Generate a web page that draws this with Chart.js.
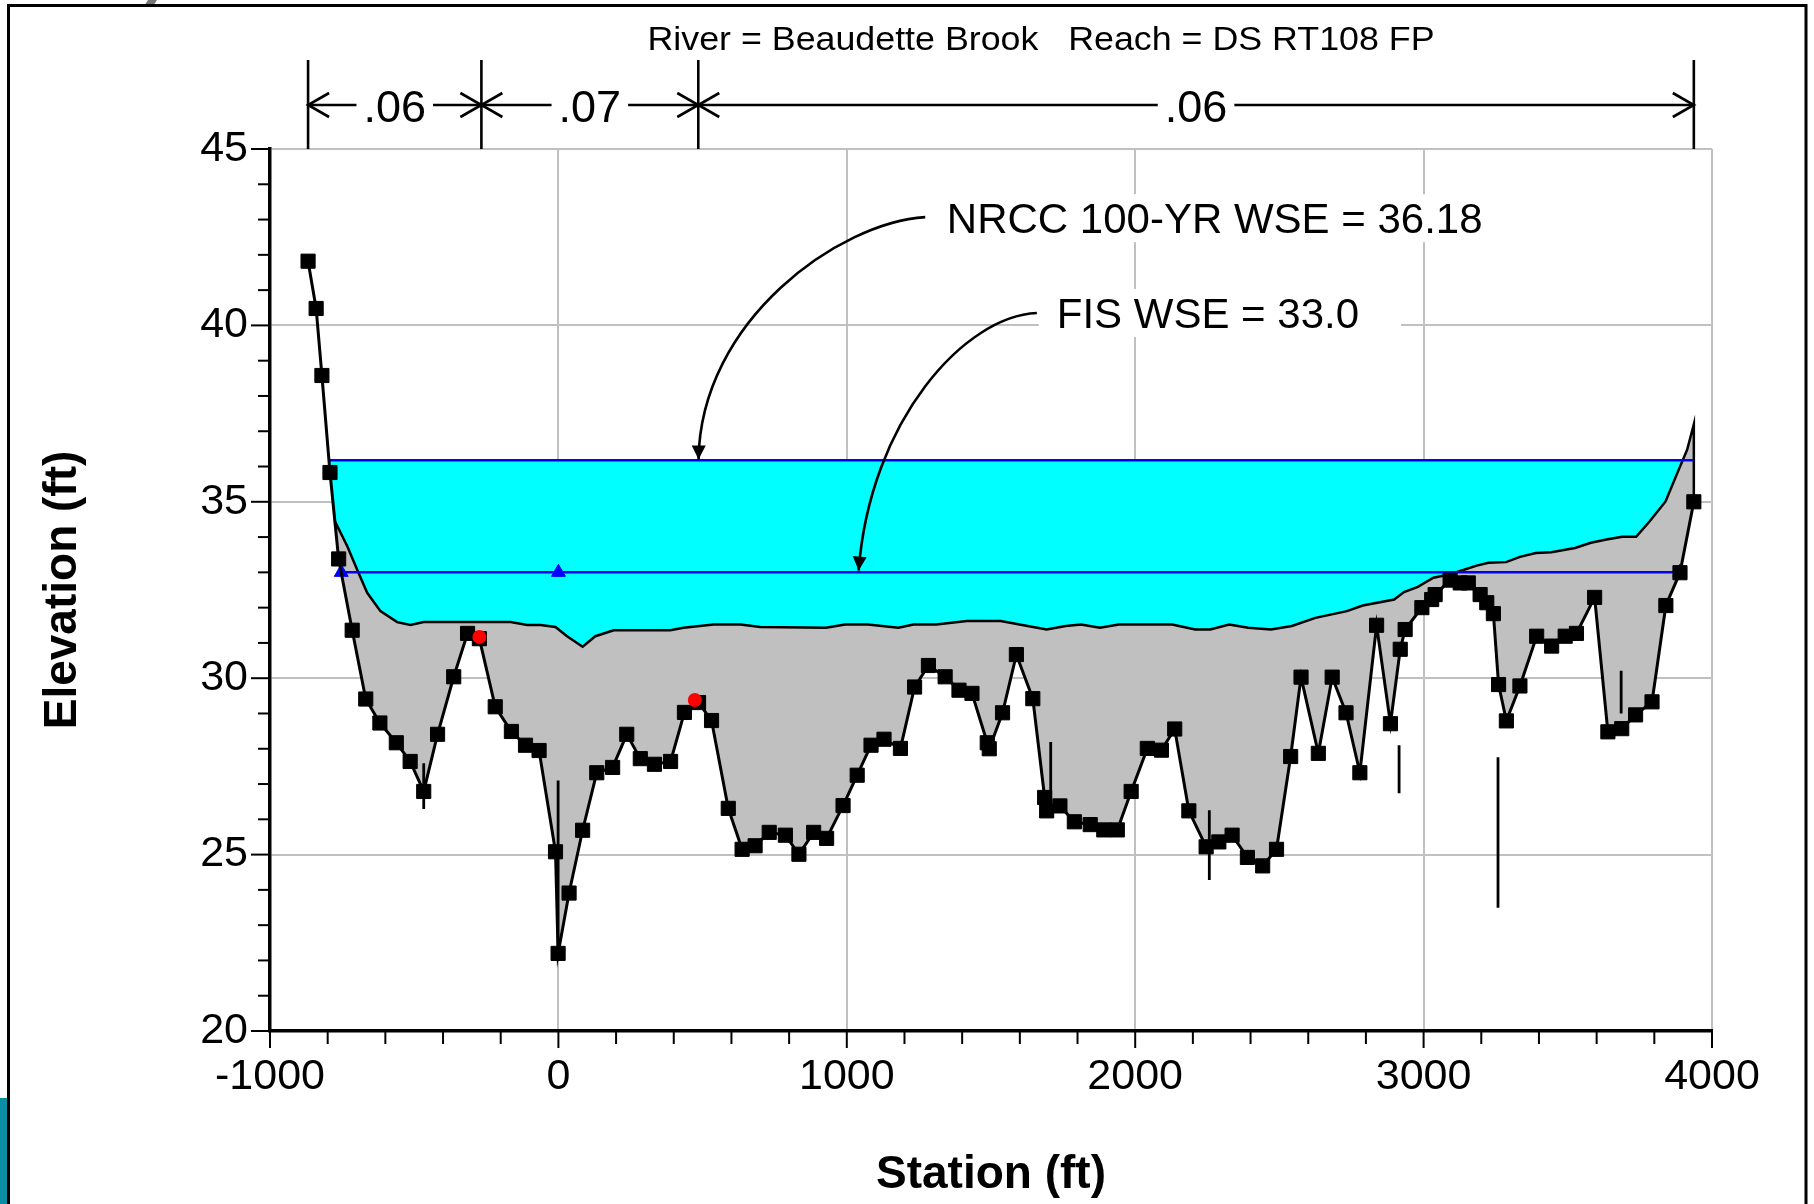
<!DOCTYPE html>
<html>
<head>
<meta charset="utf-8">
<script src="https://cdn.jsdelivr.net/npm/chart.js@4.4.0/dist/chart.umd.min.js"></script>
<style>
  html, body { margin: 0; padding: 0; background: #fff; }
  #wrap { width: 1814px; height: 1204px; }
</style>
</head>
<body>
<div id="wrap"><canvas id="xsChart" width="1814" height="1204"></canvas></div>
<script>
const FONT = "'Liberation Sans', Arial, sans-serif";

// ground points (squares)
const groundSta = [-868, -840, -820, -792, -762, -715, -668, -619, -562, -514, -467, -419, -363, -315, -274,
  -219, -163, -114, -67, -10, -1, 37, 84, 133, 188, 237, 284, 333, 389, 437, 486, 531, 589, 637, 682,
  731, 787, 834, 885, 930, 987, 1036, 1084, 1129, 1186, 1235, 1283, 1341, 1389, 1434, 1487, 1494, 1540,
  1588, 1645, 1686, 1693, 1739, 1789, 1844, 1891, 1938, 1986, 2042, 2091, 2137, 2186, 2246, 2290, 2336,
  2389, 2442, 2490, 2539, 2575, 2635, 2683, 2731, 2779, 2837, 2885, 2919, 2936, 2994, 3028, 3040, 3092,
  3127, 3155, 3196, 3219, 3242, 3260, 3287, 3334, 3392, 3444, 3491, 3530, 3593, 3639, 3687, 3735, 3792,
  3840, 3889, 3937];
const groundElev = [41.82, 40.48, 38.58, 35.83, 33.38, 31.36, 29.41, 28.73, 28.17, 27.64, 26.79, 28.41, 30.04, 31.27, 31.12,
  29.19, 28.49, 28.10, 27.95, 25.08, 22.20, 23.91, 25.69, 27.32, 27.47, 28.41, 27.72, 27.56, 27.64, 29.03, 29.31, 28.80, 26.31, 25.15, 25.25,
  25.63, 25.55, 25.01, 25.63, 25.46, 26.39, 27.25, 28.10, 28.27, 28.01, 29.75, 30.36, 30.04, 29.66, 29.57, 28.17, 28.00, 29.02,
  30.67, 29.42, 26.62, 26.24, 26.38, 25.93, 25.85, 25.70, 25.70, 26.79, 28.01, 27.96, 28.56, 26.24, 25.22, 25.36, 25.55,
  24.92, 24.68, 25.15, 27.78, 30.03, 27.87, 30.03, 29.02, 27.32, 31.50, 28.71, 30.82, 31.38, 32.00, 32.23, 32.37, 32.78,
  32.70, 32.70, 32.37, 32.14, 31.83, 29.82, 28.79, 29.78, 31.19, 30.91, 31.19, 31.27, 32.29, 28.48, 28.57, 28.96, 29.33,
  32.06, 32.99, 35.00];

// upper ground line (top of grey band)
const upperSta = [-775, -732, -698, -663, -617, -559, -513, -467, -166, -108, -62, -10, 30, 84, 128, 192, 388, 434,
  538, 631, 700, 928, 994, 1073, 1179, 1231, 1310, 1416, 1534, 1627, 1693, 1759, 1812, 1878, 1943, 2128, 2208,
  2260, 2326, 2392, 2471, 2543, 2625, 2734, 2789, 2898, 2932, 2980, 3034, 3089, 3143, 3184, 3225, 3286, 3334,
  3389, 3443, 3525, 3580, 3634, 3689, 3737, 3784, 3839, 3880, 3914, 3937];
const upperElev = [34.45, 33.74, 33.08, 32.42, 31.90, 31.59, 31.51, 31.59, 31.59, 31.51, 31.51, 31.45, 31.19, 30.89, 31.19, 31.36, 31.36, 31.43,
  31.52, 31.52, 31.45, 31.43, 31.52, 31.52, 31.43, 31.52, 31.52, 31.62, 31.62, 31.48, 31.38, 31.48, 31.52, 31.43, 31.52, 31.52, 31.38,
  31.38, 31.52, 31.43, 31.38, 31.48, 31.71, 31.90, 32.06, 32.23, 32.44, 32.59, 32.85, 32.94, 33.08, 33.19, 33.27, 33.29, 33.44,
  33.55, 33.57, 33.69, 33.84, 33.93, 34.01, 34.01, 34.45, 35.01, 35.82, 36.48, 37.20];

// water surfaces
const wse100 = 36.18;
const wse100Sta = [-796, 3937];
const wseFis = 33.0;
const fisSta = [-753, 0, 3888];

// bank stations (red dots)
const bankSta = [-274, 473];
const bankElev = [31.17, 29.38];

// vertical marker lines
const markerSta = [-467, -1, 1707, 2257, 2915, 3258, 3685];
const markerTop = [27.59, 27.10, 28.19, 26.26, 28.10, 27.76, 30.21];
const markerBot = [26.29, 22.20, 26.10, 24.28, 26.74, 23.49, 29.00];

// Manning's n breaks
const nSta = [-868, -267, 485, 3937];
const nLabels = ['.06', '.07', '.06'];

// callouts
const noteText = ['NRCC 100-YR WSE = 36.18', 'FIS WSE = 33.0'];
const noteSta = [1347, 1728];
const noteElev = [43.04, 40.35];
const arrowSta = [[1272, 977, 492, 486], [1659, 1411, 1081, 1041]];
const arrowElev = [[43.07, 42.93, 40.16, 36.2], [40.35, 40.27, 37.33, 33.05]];

const titleText = 'River = Beaudette Brook   Reach = DS RT108 FP';

function pts(xs, ys) {
  return xs.map((x, i) => ({ x: x, y: ys[i] }));
}

const groundPts = pts(groundSta, groundElev);
const upperPts = pts(upperSta, upperElev);
const lastGround = groundPts[groundPts.length - 1];

// grey band: along upper line, then back along the ground
const grayPoly = upperPts.concat(groundPts.slice(4).reverse());
// water: WSE across the top, then back along the upper line
const cyanPoly = [{ x: wse100Sta[0], y: wse100 }, { x: wse100Sta[1], y: wse100 }]
  .concat(upperPts.slice().reverse())
  .concat([groundPts[3]]);

const markerSets = markerSta.map((s, i) => ({
  data: [{ x: s, y: markerTop[i] }, { x: s, y: markerBot[i] }],
  borderColor: '#000', borderWidth: 2.8, pointRadius: 0, fill: false
}));

function drawArrow(ctx, p) {
  ctx.beginPath();
  ctx.moveTo(p[0].x, p[0].y);
  ctx.bezierCurveTo(p[1].x, p[1].y, p[2].x, p[2].y, p[3].x, p[3].y);
  ctx.stroke();
  const a = Math.atan2(p[3].y - p[2].y, p[3].x - p[2].x);
  const len = 14, hw = 7;
  ctx.beginPath();
  ctx.moveTo(p[3].x, p[3].y);
  ctx.lineTo(p[3].x - len * Math.cos(a) + hw * Math.sin(a), p[3].y - len * Math.sin(a) - hw * Math.cos(a));
  ctx.lineTo(p[3].x - len * Math.cos(a) - hw * Math.sin(a), p[3].y - len * Math.sin(a) + hw * Math.cos(a));
  ctx.closePath();
  ctx.fill();
}

function line(ctx, x1, y1, x2, y2) {
  ctx.beginPath();
  ctx.moveTo(x1, y1);
  ctx.lineTo(x2, y2);
  ctx.stroke();
}

const xsPlugin = {
  id: 'xsPlugin',
  beforeDraw(chart) {
    const ctx = chart.ctx;
    ctx.save();
    ctx.fillStyle = '#fff';
    ctx.fillRect(0, 0, chart.width, chart.height);
    ctx.fillStyle = '#0b8ea3';
    ctx.fillRect(0, 1098, 8, 106);
    ctx.fillStyle = '#777';
    ctx.beginPath();
    ctx.moveTo(148, 0); ctx.lineTo(157, 0); ctx.lineTo(153, 6); ctx.lineTo(144, 6);
    ctx.fill();
    ctx.strokeStyle = '#000';
    ctx.lineWidth = 3;
    ctx.beginPath();
    ctx.moveTo(8.5, 1204); ctx.lineTo(8.5, 5.5); ctx.lineTo(1806, 5.5); ctx.lineTo(1806, 1204);
    ctx.stroke();
    ctx.restore();
  },
  afterDatasetsDraw(chart) {
    const { ctx, scales: { x, y } } = chart;
    ctx.save();
    ctx.font = '42px ' + FONT;
    noteText.forEach((t, i) => {
      const px = x.getPixelForValue(noteSta[i]);
      const py = y.getPixelForValue(noteElev[i]);
      const w = ctx.measureText(t).width;
      ctx.fillStyle = '#fff';
      ctx.fillRect(px - 18, py - 24, w + 60, 48);
      ctx.fillStyle = '#000';
      ctx.textAlign = 'left';
      ctx.textBaseline = 'alphabetic';
      ctx.fillText(t, px, py + 15);
      const p = arrowSta[i].map((s, k) => ({ x: x.getPixelForValue(s), y: y.getPixelForValue(arrowElev[i][k]) }));
      ctx.strokeStyle = '#000';
      ctx.lineWidth = 2.6;
      drawArrow(ctx, p);
    });
    ctx.restore();
  },
  afterDraw(chart) {
    const { ctx, chartArea, scales: { x, y } } = chart;
    ctx.save();
    ctx.strokeStyle = '#000';
    ctx.fillStyle = '#000';
    ctx.lineWidth = 2;
    // tick marks
    x.ticks.forEach(t => {
      const px = x.getPixelForValue(t.value);
      const len = Math.abs(t.value % 1000) < 1e-6 ? 17 : 13;
      line(ctx, px, chartArea.bottom, px, chartArea.bottom + len);
    });
    y.ticks.forEach(t => {
      const py = y.getPixelForValue(t.value);
      const len = Math.abs(t.value % 5) < 1e-6 ? 19 : 12;
      line(ctx, chartArea.left, py, chartArea.left - len, py);
    });

    // title
    ctx.font = '34px ' + FONT;
    const tw = ctx.measureText(titleText).width;
    ctx.save();
    ctx.translate(1041, 50);
    ctx.scale(787 / tw, 1);
    ctx.textAlign = 'center';
    ctx.fillText(titleText, 0, 0);
    ctx.restore();

    // Manning's n bars
    const yDim = 105;
    ctx.lineWidth = 2.6;
    nSta.forEach(s => {
      const px = x.getPixelForValue(s);
      line(ctx, px, 60, px, chartArea.top);
    });
    ctx.font = '45px ' + FONT;
    ctx.textAlign = 'center';
    for (let i = 0; i < nLabels.length; i++) {
      const a = x.getPixelForValue(nSta[i]);
      const b = x.getPixelForValue(nSta[i + 1]);
      const mid = (a + b) / 2;
      const w = ctx.measureText(nLabels[i]).width;
      line(ctx, a, yDim, mid - w / 2 - 7, yDim);
      line(ctx, mid + w / 2 + 7, yDim, b, yDim);
      ctx.beginPath();
      ctx.moveTo(a + 21, yDim - 12); ctx.lineTo(a, yDim); ctx.lineTo(a + 21, yDim + 12);
      ctx.moveTo(b - 21, yDim - 12); ctx.lineTo(b, yDim); ctx.lineTo(b - 21, yDim + 12);
      ctx.stroke();
      ctx.fillText(nLabels[i], mid, 121.5);
    }
    ctx.restore();
  }
};

const chart = new Chart(document.getElementById('xsChart'), {
  type: 'line',
  data: {
    datasets: [
      {
        data: pts(bankSta, bankElev), showLine: false,
        pointStyle: 'circle', pointRadius: 7, pointBackgroundColor: '#ff0000', pointBorderColor: '#ff0000', pointBorderWidth: 0
      },
      {
        data: groundPts, borderColor: '#000', borderWidth: 3, fill: false,
        pointStyle: 'rect', pointRadius: 10, pointBackgroundColor: '#000', pointBorderColor: '#000', pointBorderWidth: 1
      },
      ...markerSets,
      {
        data: fisSta.map(s => ({ x: s, y: wseFis })), borderColor: '#0000ff', borderWidth: 2.5, fill: false,
        pointStyle: 'triangle', pointRadius: 8, pointBackgroundColor: '#0000ff', pointBorderColor: '#0000ff', pointBorderWidth: 1
      },
      {
        data: wse100Sta.map(s => ({ x: s, y: wse100 })), borderColor: '#0000ff', borderWidth: 2.5, pointRadius: 0, fill: false
      },
      {
        data: upperPts.concat([lastGround]), borderColor: '#000', borderWidth: 2.5, pointRadius: 0, fill: false
      },
      {
        data: grayPoly, borderWidth: 0, borderColor: 'rgba(0,0,0,0)', pointRadius: 0,
        fill: 'shape', backgroundColor: '#c0c0c0'
      },
      {
        data: cyanPoly, borderWidth: 0, borderColor: 'rgba(0,0,0,0)', pointRadius: 0,
        fill: 'shape', backgroundColor: '#00ffff'
      }
    ]
  },
  options: {
    responsive: false,
    animation: false,
    devicePixelRatio: 1,
    events: [],
    layout: { padding: { top: 149, right: 102, left: 0, bottom: 0 } },
    plugins: { legend: { display: false }, tooltip: { enabled: false } },
    elements: { line: { tension: 0 } },
    scales: {
      x: {
        type: 'linear', min: -1000, max: 4000,
        afterFit: s => { s.height = 173; },
        ticks: {
          stepSize: 200, autoSkip: false, maxRotation: 0, padding: 20, color: '#000',
          font: { family: FONT, size: 43 },
          callback: v => (Math.abs(v % 1000) < 1e-6 ? String(v) : '')
        },
        grid: {
          color: c => (c.tick && Math.abs(c.tick.value % 1000) < 1e-6 ? '#c0c0c0' : 'rgba(0,0,0,0)'),
          lineWidth: 2, drawTicks: false
        },
        border: { display: true, color: '#000', width: 3.5 },
        title: {
          display: true, text: 'Station (ft)', color: '#000',
          font: { family: FONT, size: 46, weight: 'bold' }, padding: { top: 0, bottom: 1 }
        }
      },
      y: {
        type: 'linear', min: 20, max: 45,
        afterFit: s => { s.width = 270; },
        ticks: {
          stepSize: 1, autoSkip: false, padding: 22, color: '#000',
          font: { family: FONT, size: 43 },
          callback: v => (Math.abs(v % 5) < 1e-6 ? String(v) : '')
        },
        grid: {
          color: c => (c.tick && Math.abs(c.tick.value % 5) < 1e-6 ? '#c0c0c0' : 'rgba(0,0,0,0)'),
          lineWidth: 2, drawTicks: false
        },
        border: { display: true, color: '#000', width: 3.5 },
        title: {
          display: true, text: 'Elevation (ft)', color: '#000',
          font: { family: FONT, size: 46, weight: 'bold' }, padding: { top: 36, bottom: 0 }
        }
      }
    }
  },
  plugins: [xsPlugin]
});
</script>
</body>
</html>
